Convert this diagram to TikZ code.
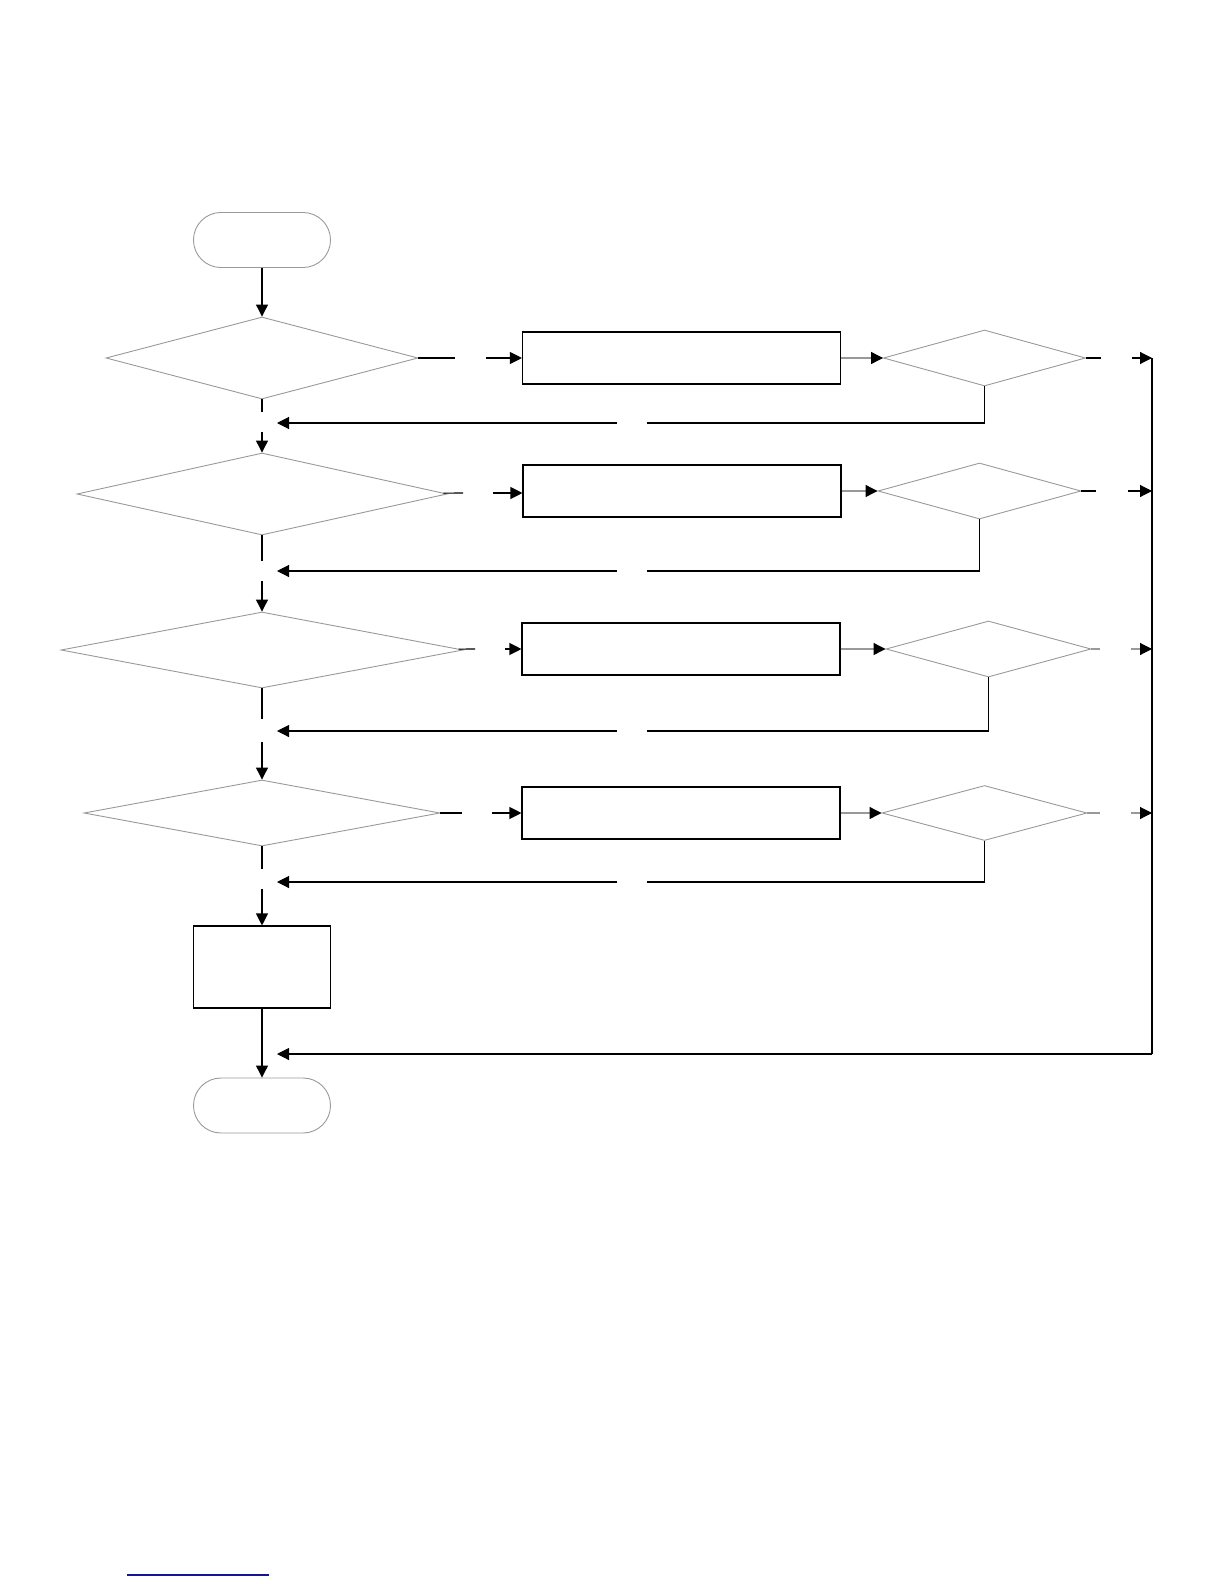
\documentclass[tikz,border=0pt]{standalone}
\usetikzlibrary{arrows.meta,shapes.geometric}

\definecolor{linkblue}{RGB}{20,20,150}

\begin{document}
\begin{tikzpicture}[
    x=0.5pt, y=-0.5pt,
    term/.style={draw=gray!80, line width=0.45pt, rectangle, rounded corners=13.7pt, minimum width=68.5pt, minimum height=27.5pt, inner sep=0pt},
    cond/.style={draw=gray!80, line width=0.45pt, diamond, inner sep=0pt},
    stepbox/.style={draw, line width=0.55pt, rectangle, inner sep=0pt, minimum width=159pt, minimum height=26pt},
    line/.style={line width=0.55pt},
    link/.style={line width=0.55pt, -{Triangle[length=6pt, width=6pt, color=black]}},
    graylink/.style={link, draw=gray!80}
]
\useasboundingbox (0,0) rectangle (1224,1584);

% main column
\node[term] (start) at (262,240) {};
\node[cond, minimum width=156pt, minimum height=41pt] (ifA) at (262,358) {};
\node[cond, minimum width=185pt, minimum height=41pt] (ifB) at (262,494) {};
\node[cond, minimum width=201pt, minimum height=38pt] (ifC) at (262,650) {};
\node[cond, minimum width=178pt, minimum height=33pt] (ifD) at (262,813) {};
\node[draw, line width=0.55pt, rectangle, inner sep=0pt, minimum width=68.5pt, minimum height=41pt] (proc) at (262,967) {};
\node[term] (stop) at (262,1105.5) {};

% right branches
\node[stepbox] (stepA) at (681.5,358) {};
\node[stepbox] (stepB) at (682,491) {};
\node[stepbox] (stepC) at (681,649) {};
\node[stepbox] (stepD) at (681,813) {};
\node[cond, minimum width=101pt, minimum height=28pt] (chkA) at (984.5,358) {};
\node[cond, minimum width=101.5pt, minimum height=28pt] (chkB) at (979.5,491) {};
\node[cond, minimum width=102.5pt, minimum height=28pt] (chkC) at (988.5,649) {};
\node[cond, minimum width=102.5pt, minimum height=27.5pt] (chkD) at (984.5,813) {};

% bus on the right
\coordinate (busA) at (1152,358);
\coordinate (busB) at (1152,491);
\coordinate (busC) at (1152,649);
\coordinate (busD) at (1152,813);
\coordinate (busE) at (1152,1054);
\coordinate (retE) at (277,1054);

% gaps on the main column
\coordinate (sA1) at (262,412); \coordinate (sA2) at (262,432);
\coordinate (sB1) at (262,561); \coordinate (sB2) at (262,581);
\coordinate (sC1) at (262,719); \coordinate (sC2) at (262,742);
\coordinate (sD1) at (262,869); \coordinate (sD2) at (262,889);

% gaps to the boxes
\coordinate (gA1) at (455,358); \coordinate (gA2) at (486,358);
\coordinate (gB1) at (463,493); \coordinate (gB2) at (493,493);
\coordinate (gC1) at (475,649); \coordinate (gC2) at (505,649);
\coordinate (gD1) at (462,813); \coordinate (gD2) at (492,813);

% gaps to the bus
\coordinate (hA1) at (1101,358); \coordinate (hA2) at (1132,358);
\coordinate (hB1) at (1096,491); \coordinate (hB2) at (1128,491);
\coordinate (hC1) at (1100,649); \coordinate (hC2) at (1131,649);
\coordinate (hD1) at (1100,813); \coordinate (hD2) at (1131,813);

% return lines
\coordinate (rA2) at (647,423); \coordinate (rA1) at (617,423); \coordinate (rA0) at (277,423);
\coordinate (rB2) at (647,571); \coordinate (rB1) at (617,571); \coordinate (rB0) at (277,571);
\coordinate (rC2) at (647,731); \coordinate (rC1) at (617,731); \coordinate (rC0) at (277,731);
\coordinate (rD2) at (647,882); \coordinate (rD1) at (617,882); \coordinate (rD0) at (277,882);

\draw[link] (start) -- (ifA);
\draw[line] (ifA) -- (sA1);
\draw[link] (sA2) -- (ifB);
\draw[line] (ifB) -- (sB1);
\draw[link] (sB2) -- (ifC);
\draw[line] (ifC) -- (sC1);
\draw[link] (sC2) -- (ifD);
\draw[line] (ifD) -- (sD1);
\draw[link] (sD2) -- (proc);
\draw[link] (proc) -- (stop);

\draw[line] (ifA) -- (gA1);
\draw[link] (gA2) -- (stepA);
\draw[line] (ifB) -- (gB1);
\draw[link] (gB2) -- (gB2 -| stepB.west);
\draw[line] (ifC) -- (gC1);
\draw[link] (gC2) -- (stepC);
\draw[line] (ifD) -- (gD1);
\draw[link] (gD2) -- (stepD);

\draw[graylink] (stepA) -- (chkA);
\draw[graylink] (stepB) -- (chkB);
\draw[graylink] (stepC) -- (chkC);
\draw[graylink] (stepD) -- (chkD);

\draw[line] (chkA) -- (hA1);
\draw[link] (hA2) -- (busA);
\draw[line] (chkB) -- (hB1);
\draw[link] (hB2) -- (busB);
\draw[line, gray!80] (chkC) -- (hC1);
\draw[graylink] (hC2) -- (busC);
\draw[line, gray!80] (chkD) -- (hD1);
\draw[graylink] (hD2) -- (busD);

\draw[line] (chkA.south) |- (rA2);
\draw[link] (rA1) -- (rA0);
\draw[line] (chkB.south) |- (rB2);
\draw[link] (rB1) -- (rB0);
\draw[line] (chkC.south) |- (rC2);
\draw[link] (rC1) -- (rC0);
\draw[line] (chkD.south) |- (rD2);
\draw[link] (rD1) -- (rD0);

\draw[line] (busA) -- (busE);
\draw[link] (busE) -- (retE);

% underline at the foot of the page
\draw[linkblue, line width=0.6pt] (127,1575) -- (269,1575);
\end{tikzpicture}
\end{document}
